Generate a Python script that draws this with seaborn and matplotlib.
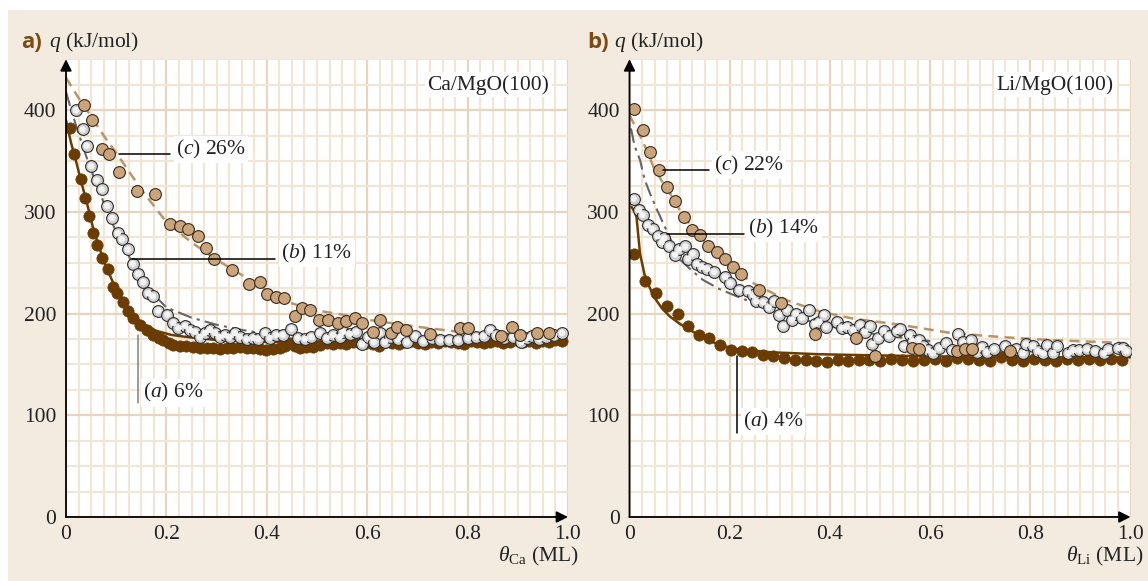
import numpy as np
import pandas as pd
import matplotlib
matplotlib.use("Agg")
import matplotlib.pyplot as plt
import seaborn as sns
from matplotlib.patches import Rectangle
from matplotlib.ticker import MultipleLocator, FixedLocator, FixedFormatter

# ---------------- data ----------------
# Panel a) Ca/MgO(100)
ca_a_x = [0.008,0.016,0.029,0.038,0.046,0.053,0.062,0.071,0.083,0.094,0.101,0.113,0.124,0.134,0.147,0.161,0.174,0.186,0.194,0.205,0.214,0.227,0.240,0.253,0.267,0.280,0.293,0.306,0.320,0.333,0.346,0.360,0.373,0.386,0.399,0.412,0.426,0.436,0.446,0.456,0.466,0.479,0.492,0.505,0.519,0.532,0.545,0.558,0.572,0.585,0.598,0.611,0.624,0.637,0.650,0.663,0.676,0.689,0.702,0.715,0.728,0.741,0.754,0.767,0.780,0.793,0.806,0.819,0.832,0.845,0.858,0.871,0.884,0.897,0.910,0.923,0.936,0.949,0.962,0.975,0.988]
ca_a_y = [382,357,332,314,296,279,267,255,244,226,220,211,203,196,189,184,179,176,174,171,169,168,168,167,166,166,166,165,166,166,167,166,166,165,164,165,166,168,171,168,166,167,167,169,171,170,171,170,172,171,171,170,168,172,171,170,172,173,171,170,172,171,173,172,171,170,173,172,171,172,173,171,172,174,172,173,171,173,172,174,173]

ca_b_x = [0.020,0.033,0.041,0.050,0.061,0.071,0.082,0.092,0.103,0.111,0.123,0.133,0.144,0.154,0.164,0.173,0.184,0.202,0.214,0.224,0.237,0.247,0.257,0.267,0.277,0.287,0.297,0.306,0.316,0.326,0.336,0.346,0.360,0.373,0.383,0.396,0.406,0.419,0.432,0.449,0.462,0.476,0.489,0.505,0.519,0.532,0.545,0.552,0.565,0.578,0.590,0.602,0.613,0.625,0.635,0.645,0.661,0.670,0.679,0.695,0.712,0.729,0.746,0.763,0.781,0.801,0.817,0.832,0.845,0.857,0.873,0.890,0.907,0.918,0.929,0.943,0.957,0.972,0.988]
ca_b_y = [400,381,365,345,331,322,306,294,279,273,263,249,239,231,220,217,203,199,191,186,188,184,182,177,181,184,181,177,179,177,181,177,175,176,175,181,176,179,179,185,176,175,177,181,176,179,177,182,180,182,170,177,172,181,172,177,175,179,172,178,173,176,174,174,174,176,177,178,184,179,176,177,172,176,178,175,177,179,181]

ca_c_x = [0.036,0.052,0.071,0.086,0.105,0.141,0.177,0.207,0.227,0.243,0.262,0.278,0.295,0.330,0.365,0.386,0.401,0.418,0.434,0.456,0.470,0.487,0.504,0.522,0.541,0.557,0.575,0.590,0.612,0.626,0.648,0.660,0.678,0.726,0.785,0.801,0.867,0.888,0.905,0.939,0.963]
ca_c_y = [405,390,362,357,339,321,318,288,286,283,276,264,254,243,229,231,219,216,215,198,205,204,194,194,191,193,196,191,182,194,181,187,184,180,186,186,178,187,179,181,181]

# fitted curves, panel a)
ca_fa_x = [0.0,0.01,0.02,0.03,0.04,0.055,0.075,0.095,0.12,0.15,0.18,0.21,0.24,0.30,0.40,0.50,0.60,0.80,1.0]
ca_fa_y = [390,368,350,330,312,282,252,229,207,191,183,179,177,174,172,172,172,172,172]
ca_fb_x = [0.0,0.01,0.02,0.04,0.06,0.08,0.10,0.13,0.16,0.20,0.25,0.30,0.35,0.40]
ca_fb_y = [418,401,385,355,328,303,280,252,226,206,196,189,184,180]
ca_fc_x = [0.0,0.025,0.05,0.075,0.10,0.15,0.20,0.25,0.30,0.35,0.40,0.45,0.50,0.55,0.60,0.70,0.80]
ca_fc_y = [432,412,394,375,358,322,290,270,253,238,223,210,203,199,194,187,181]

# Panel b) Li/MgO(100)
li_a_x = [0.009,0.031,0.052,0.074,0.096,0.117,0.139,0.159,0.181,0.202,0.224,0.245,0.266,0.287,0.308,0.330,0.352,0.372,0.394,0.416,0.437,0.458,0.479,0.500,0.522,0.544,0.566,0.588,0.610,0.632,0.654,0.676,0.698,0.720,0.742,0.764,0.786,0.808,0.830,0.852,0.874,0.896,0.918,0.940,0.962,0.984]
li_a_y = [259,232,220,207,200,188,179,176,169,164,163,162,159,158,156,154,154,153,152,154,153,154,154,153,155,154,153,154,155,153,156,155,154,153,157,154,153,155,154,153,155,154,155,154,155,154]

li_b_x = [0.008,0.019,0.026,0.036,0.046,0.056,0.064,0.069,0.079,0.091,0.099,0.111,0.117,0.126,0.134,0.144,0.155,0.169,0.191,0.201,0.219,0.236,0.247,0.253,0.267,0.278,0.288,0.299,0.307,0.314,0.324,0.332,0.344,0.359,0.370,0.379,0.388,0.392,0.414,0.424,0.434,0.447,0.460,0.470,0.480,0.485,0.497,0.507,0.517,0.533,0.540,0.547,0.559,0.565,0.577,0.586,0.596,0.606,0.618,0.632,0.643,0.656,0.666,0.681,0.693,0.703,0.713,0.728,0.750,0.771,0.785,0.791,0.806,0.816,0.826,0.834,0.846,0.854,0.876,0.886,0.898,0.913,0.929,0.947,0.956,0.976,0.986,0.992]
li_b_y = [313,302,297,287,283,276,270,274,266,258,263,266,254,259,249,246,244,241,236,230,223,222,218,212,211,206,212,199,188,204,194,200,196,204,190,192,199,187,192,186,187,184,189,182,188,170,176,183,178,183,185,168,179,173,174,168,164,161,166,171,164,180,172,174,162,167,162,165,168,165,161,170,168,163,161,169,161,168,161,164,164,165,163,161,165,166,166,163]

li_c_x = [0.008,0.026,0.041,0.058,0.074,0.091,0.109,0.124,0.141,0.157,0.174,0.191,0.207,0.222,0.259,0.302,0.370,0.452,0.490,0.563,0.577,0.654,0.670,0.683,0.759]
li_c_y = [401,380,359,341,324,311,295,282,277,266,261,254,246,239,223,210,180,176,158,166,165,163,165,165,163]

# fitted curves, panel b)
li_fa_x = [0.004,0.010,0.014,0.021,0.031,0.048,0.065,0.081,0.10,0.114,0.147,0.181,0.214,0.28,0.38,0.48,0.60,0.80,1.0]
li_fa_y = [305,300,295,259,236,217,205,197,190,186,176,169,165,162,160,159,158,157,157]
li_fb_x = [0.003,0.010,0.021,0.030,0.041,0.055,0.067,0.085,0.101,0.125,0.147,0.18,0.214,0.25,0.28,0.347,0.414,0.50,0.60]
li_fb_y = [382,365,351,332,318,302,289,270,253,242,233,224,217,210,205,194,186,179,173]
li_fc_x = [0.0,0.02,0.034,0.048,0.065,0.081,0.10,0.114,0.147,0.181,0.247,0.314,0.38,0.447,0.54,0.64,0.74,0.84,0.99]
li_fc_y = [395,376,361,344,330,318,302,292,272,254,230,213,202,195,189,181,177,174,171]

# ---------------- style ----------------
BEIGE = "#f3ebe0"
BROWN = "#6b3c02"
TAN = "#c9a47c"
TAN_LINE = "#b8956a"
GRAY = "#cfcfcf"
LABEL_BROWN = "#7a4a12"
FS = 15.5

sns.set_theme(style="white")
plt.rcParams["font.family"] = ["Liberation Serif", "DejaVu Serif"]
plt.rcParams["mathtext.fontset"] = "custom"
plt.rcParams["mathtext.rm"] = "Liberation Serif"
plt.rcParams["mathtext.it"] = "Liberation Serif:italic"

W, H = 1148, 581
fig = plt.figure(figsize=(W / 100, H / 100), dpi=100)
fig.patch.set_facecolor("white")
fig.add_artist(Rectangle((8 / W, 0), 1 - 8 / W, (H - 10) / H, transform=fig.transFigure,
                         facecolor=BEIGE, edgecolor="none", zorder=-10))

axL = fig.add_axes([66 / W, (H - 517) / H, 502 / W, 457.7 / H])
axR = fig.add_axes([629.5 / W, (H - 517) / H, 501 / W, 457.7 / H])


def setup(ax):
    ax.set_facecolor("white")
    ax.set_xlim(0, 1.0)
    ax.set_ylim(0, 450)
    ax.xaxis.set_major_locator(FixedLocator([0, 0.2, 0.4, 0.6, 0.8, 1.0]))
    ax.xaxis.set_major_formatter(FixedFormatter(["0", "0.2", "0.4", "0.6", "0.8", "1.0"]))
    ax.xaxis.set_minor_locator(MultipleLocator(0.025))
    ax.yaxis.set_major_locator(FixedLocator([0, 100, 200, 300, 400]))
    ax.yaxis.set_minor_locator(MultipleLocator(25))
    ax.grid(which="minor", color="#f3e5d3", lw=1.5, zorder=0)
    ax.grid(which="major", color="#e8d5bf", lw=1.6, zorder=0)
    ax.set_axisbelow(True)
    for s in ax.spines.values():
        s.set_visible(False)
    ax.tick_params(which="both", length=0, labelsize=FS, colors="#222222")
    ax.tick_params(axis="y", pad=7)
    ax.tick_params(axis="x", pad=6)
    ax.set_xlabel("")
    ax.set_ylabel("")
    # axis arrows
    ax.annotate("", xy=(0, 1.0), xytext=(0, 0), xycoords="axes fraction",
                arrowprops=dict(arrowstyle="-|>", color="black", lw=1.3, mutation_scale=17,
                                shrinkA=0, shrinkB=0), annotation_clip=False, zorder=10)
    ax.annotate("", xy=(1.0, 0), xytext=(0, 0), xycoords="axes fraction",
                arrowprops=dict(arrowstyle="-|>", color="black", lw=1.3, mutation_scale=17,
                                shrinkA=0, shrinkB=0), annotation_clip=False, zorder=10)


def draw(ax, ax_, ay_, bx_, by_, cx_, cy_, fa, fb, fc):
    setup(ax)
    sns.lineplot(x=fa[0], y=fa[1], ax=ax, color=BROWN, lw=1.8, sort=False, estimator=None, zorder=3)
    sns.lineplot(x=fb[0], y=fb[1], ax=ax, color="#666666", lw=1.5, sort=False, estimator=None,
                 linestyle=(0, (7, 2.5, 1.5, 2.5)), zorder=3)
    sns.lineplot(x=fc[0], y=fc[1], ax=ax, color=TAN_LINE, lw=1.8, sort=False, estimator=None,
                 linestyle=(0, (4, 2.5)), zorder=3)
    sns.scatterplot(x=ax_, y=ay_, ax=ax, s=66, color=BROWN, edgecolor=BROWN, linewidth=0.5, zorder=4)
    sns.scatterplot(x=bx_, y=by_, ax=ax, s=72, color=GRAY, edgecolor="#2e2e2e", linewidth=0.8, zorder=5)
    sns.scatterplot(x=bx_, y=by_, ax=ax, s=22, color="#f4f4f4", edgecolor="none", linewidth=0, zorder=5)
    sns.scatterplot(x=cx_, y=cy_, ax=ax, s=72, color=TAN, edgecolor="#3a2a18", linewidth=0.8, zorder=6)
    ax.set_xlim(0, 1.0)
    ax.set_ylim(0, 450)
    ax.set_xlabel("")
    ax.set_ylabel("")


def label(ax, x0, x1, y, tx, ty, text, vertical=False, lc="black"):
    if vertical:
        ax.plot([x0, x0], [x1, y], color=lc, lw=1.1, zorder=7)
    else:
        ax.plot([x0, x1], [y, y], color="black", lw=1.1, zorder=7)
    ax.text(tx, ty, text, fontsize=FS, ha="left", va="center", zorder=8, color="#222222",
            bbox=dict(facecolor="white", edgecolor="none", pad=1.5))


draw(axL, ca_a_x, ca_a_y, ca_b_x, ca_b_y, ca_c_x, ca_c_y,
     (ca_fa_x, ca_fa_y), (ca_fb_x, ca_fb_y), (ca_fc_x, ca_fc_y))
draw(axR, li_a_x, li_a_y, li_b_x, li_b_y, li_c_x, li_c_y,
     (li_fa_x, li_fa_y), (li_fb_x, li_fb_y), (li_fc_x, li_fc_y))

# annotations, panel a
label(axL, 0.106, 0.207, 357, 0.219, 361, r"($c$) 26%")
label(axL, 0.131, 0.416, 254, 0.429, 259, r"($b$) 11%")
label(axL, 0.143, 179, 112, 0.153, 122, r"($a$) 6%", vertical=True, lc="#808080")
axL.text(0.963, 425, "Ca/MgO(100)", fontsize=FS, ha="right", va="center", color="#222222", zorder=8,
         bbox=dict(facecolor="white", edgecolor="none", pad=2))

# annotations, panel b
label(axR, 0.066, 0.159, 341, 0.169, 346, r"($c$) 22%")
label(axR, 0.074, 0.229, 278, 0.237, 284, r"($b$) 14%")
label(axR, 0.215, 158, 83, 0.226, 94, r"($a$) 4%", vertical=True, lc="black")
axR.text(0.967, 425, "Li/MgO(100)", fontsize=FS, ha="right", va="center", color="#222222", zorder=8,
         bbox=dict(facecolor="white", edgecolor="none", pad=2))

# panel titles and axis labels
for px, lab in [(21, "a)"), (587, "b)")]:
    fig.text(px / W, 1 - 42 / H, lab, fontsize=16, fontweight="bold", color=LABEL_BROWN,
             family=["Open Sans", "DejaVu Sans"], va="center", ha="left")
fig.text(49 / W, 1 - 42 / H, r"$q$ (kJ/mol)", fontsize=FS, va="center", ha="left", color="#222222")
fig.text(614 / W, 1 - 42 / H, r"$q$ (kJ/mol)", fontsize=FS, va="center", ha="left", color="#222222")
fig.text(579 / W, 1 - 556 / H, r"$\theta_{\mathrm{Ca}}$ (ML)", fontsize=FS, va="center", ha="right",
         color="#222222")
fig.text(1143 / W, 1 - 556 / H, r"$\theta_{\mathrm{Li}}$ (ML)", fontsize=FS, va="center", ha="right",
         color="#222222")

fig.savefig("out.png", dpi=100, facecolor=fig.get_facecolor())
